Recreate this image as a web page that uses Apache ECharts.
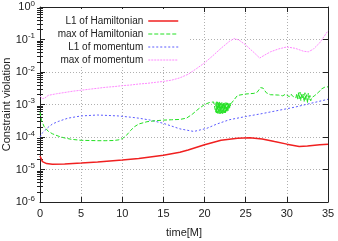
<!DOCTYPE html>
<html><head><meta charset="utf-8">
<script src="https://cdn.jsdelivr.net/npm/echarts@6/dist/echarts.min.js"></script>
<style>html,body{margin:0;padding:0;background:#fff}#c{width:338px;height:241px}</style>
</head><body><div id="c"></div>
<script>
const seriesNames = ['L1 of Hamiltonian','max of Hamiltonian','L1 of momentum','max of momentum'];
const xTicks = [0,5,10,15,20,25,30,35];
const yTicks = [1e-6,1e-5,1e-4,1e-3,1e-2,1e-1,1];

const l1HamT = [0,0.3,0.8,1.5,3,5,7,10,12,15,17,18,20,22,24,25.5,27,28.5,30,31.5,32.5,34,35];
const l1HamV = [2.6e-5,1.75e-5,1.52e-5,1.45e-5,1.48e-5,1.58e-5,1.70e-5,1.95e-5,2.19e-5,2.75e-5,3.39e-5,3.98e-5,5.75e-5,7.94e-5,9.12e-5,9.55e-5,8.71e-5,7.24e-5,6.03e-5,5.13e-5,5.25e-5,5.75e-5,6.03e-5];

const maxHamT = [0,0.2,0.5,1,1.5,2.2,3,3.8,5,6,7,8,9,9.6,10,10.5,11,11.5,12,13,14,15,16,17,17.8,18.5,19.2,20,20.6,21.1,
  21.30,21.35,21.40,21.45,21.50,21.55,21.60,21.65,21.70,21.75,21.80,21.85,21.90,21.95,22.00,22.05,22.10,22.15,22.20,22.25,
  22.30,22.35,22.40,22.45,22.50,22.55,22.60,22.65,22.70,22.75,22.80,22.85,22.90,22.95,23.00,23.05,23.10,23.15,23.20,
  23.4,24,25,26,26.4,26.8,27.1,27.5,28,29,29.5,29.8,30,30.3,30.5,30.7,30.9,
  31.1,31.2,31.3,31.4,31.5,31.6,31.7,31.8,31.9,32.0,32.1,32.2,32.3,32.4,32.5,32.6,32.7,32.8,32.9,33.0,33.4,33.8,34.2,34.6,35];
const maxHamV = [5.8e-4,3.16e-4,2.1e-4,1.5e-4,1.26e-4,1.07e-4,9.3e-5,8.5e-5,7.9e-5,7.8e-5,7.7e-5,7.7e-5,7.8e-5,8.2e-5,8.9e-5,1.12e-4,1.58e-4,2.09e-4,2.51e-4,2.95e-4,3.16e-4,3.31e-4,3.39e-4,3.47e-4,3.8e-4,5.0e-4,7.1e-4,1.0e-3,1.15e-3,1.2e-3,
  1.25e-3,5.8e-4,1.2e-3,5.5e-4,1.22e-3,5.4e-4,1.18e-3,5.3e-4,1.15e-3,5.4e-4,1.2e-3,5.2e-4,1.12e-3,5.3e-4,1.1e-3,5.5e-4,1.15e-3,5.2e-4,1.1e-3,5.4e-4,
  1.08e-3,5.3e-4,1.12e-3,5.5e-4,1.1e-3,5.6e-4,1.15e-3,5.8e-4,1.1e-3,6e-4,1.12e-3,6.5e-4,1.1e-3,7e-4,1.05e-3,8e-4,1.1e-3,9e-4,1.05e-3,
  1.1e-3,1.9e-3,2.1e-3,2.2e-3,2.4e-3,3.3e-3,3.2e-3,2.3e-3,2.0e-3,1.95e-3,1.85e-3,2.05e-3,1.9e-3,1.75e-3,2.1e-3,1.8e-3,2.0e-3,
  1.6e-3,2.2e-3,1.4e-3,2.3e-3,1.5e-3,2.4e-3,1.3e-3,2.2e-3,1.5e-3,2.1e-3,1.2e-3,2.3e-3,1.4e-3,2.0e-3,1.1e-3,2.2e-3,1.4e-3,1.9e-3,1.3e-3,1.6e-3,1.9e-3,2.3e-3,3.0e-3,3.4e-3,3.5e-3];

const l1MomT = [0,0.3,0.6,1,1.5,2.2,3.4,5,7,9.5,11,12,13.4,15,17,18.7,20.3,21.5,23,25,27,29,31,33,35];
const l1MomV = [1.0e-4,1.35e-4,1.6e-4,2.0e-4,2.5e-4,3.0e-4,3.8e-4,4.45e-4,4.75e-4,4.45e-4,4.07e-4,3.8e-4,3.31e-4,2.63e-4,1.78e-4,1.48e-4,1.86e-4,2.51e-4,3.39e-4,4.27e-4,5.25e-4,6.61e-4,8.32e-4,1.1e-3,1.45e-3];

const maxMomT = [0,0.3,0.6,1,2,3,4,5,6,7,8,9,10,11,12,13,14,15,16,17,18,19,20,21,22,23,23.6,24.2,25,26,26.7,27.3,28,29,30,31,32,32.6,33.2,34,35];
const maxMomV = [1.82e-3,1.51e-3,1.58e-3,1.91e-3,2.14e-3,2.34e-3,2.57e-3,2.75e-3,2.95e-3,3.16e-3,3.39e-3,3.55e-3,3.8e-3,3.98e-3,4.27e-3,4.47e-3,4.79e-3,5.13e-3,5.62e-3,6.61e-3,8.51e-3,1.26e-2,1.91e-2,3.16e-2,5.37e-2,8.71e-2,1.07e-1,9.55e-2,6.76e-2,3.98e-2,2.69e-2,3.31e-2,4.17e-2,5.13e-2,5.89e-2,5.37e-2,4.37e-2,4.17e-2,5.01e-2,7.94e-2,1.86e-1];

const minorVals = [];
yTicks.slice(0,-1).forEach(d => { for (let k = 2; k <= 9; k++) minorVals.push(+(d*k).toPrecision(3)); });

const pair = (t, v) => t.map((x, i) => [x, v[i]]);
const font = 'Liberation Sans, Arial, sans-serif';
const supLabel = v => { const e = Math.round(Math.log10(v)); return '{b|10}{s|' + e + '}'; };

const styles = [
  {color: '#f02020', width: 1.5, type: 'solid'},
  {color: '#22e022', width: 1, type: [4, 2]},
  {color: '#5a5aff', width: 1, type: [2, 2]},
  {color: '#ff88ff', width: 1, type: [2, 1]}
];

const chart = echarts.init(document.getElementById('c'), null, {renderer: 'canvas'});
const gridSplit = {show: true, lineStyle: {color: '#b0b0b0', type: [1, 2], width: 1}};
const baseY = {type: 'log', logBase: 10, min: 1e-6, max: 1, gridIndex: 0};
chart.setOption({
  animation: false,
  textStyle: {fontFamily: font},
  grid: {left: 40, right: 10, top: 7, bottom: 39, containLabel: false, outerBoundsMode: 'none'},
  xAxis: [
    {type: 'value', min: 0, max: 35, interval: 5, position: 'bottom',
     name: 'time[M]', nameLocation: 'middle', nameGap: 25, nameMoveOverlap: false,
     nameTextStyle: {fontSize: 11, color: '#222', fontFamily: font},
     axisLine: {show: true, onZero: false, lineStyle: {color: '#222', width: 1}},
     axisTick: {show: true, inside: true, length: 5, lineStyle: {color: '#222'}},
     axisLabel: {fontSize: 11, color: '#222', margin: 6, fontFamily: font},
     splitLine: gridSplit},
    {type: 'value', min: 0, max: 35, interval: 5, position: 'top',
     axisLine: {show: true, onZero: false, lineStyle: {color: '#222', width: 1}},
     axisTick: {show: true, inside: true, length: 5, lineStyle: {color: '#222'}},
     axisLabel: {show: false}, splitLine: {show: false}}
  ],
  yAxis: [
    Object.assign({}, baseY, {position: 'left',
     name: 'Constraint violation', nameLocation: 'middle', nameGap: 28, nameRotate: 90, nameMoveOverlap: false,
     nameTextStyle: {fontSize: 11, color: '#222', fontFamily: font},
     axisLine: {show: true, onZero: false, lineStyle: {color: '#222', width: 1}},
     axisTick: {show: true, inside: true, length: 5, lineStyle: {color: '#222'}},
     axisLabel: {formatter: supLabel, color: '#222', margin: 5,
       rich: {b: {fontSize: 11, fontFamily: font, color: '#222'}, s: {fontSize: 8, fontFamily: font, color: '#222', padding: [0,0,7,0]}}},
     splitLine: gridSplit}),
    Object.assign({}, baseY, {position: 'left',
     axisLine: {show: false}, axisLabel: {show: false}, splitLine: {show: false},
     axisTick: {show: true, inside: true, length: 3, customValues: minorVals, lineStyle: {color: '#222'}}}),
    Object.assign({}, baseY, {position: 'right',
     axisLine: {show: true, onZero: false, lineStyle: {color: '#222', width: 1}}, axisLabel: {show: false}, splitLine: {show: false},
     axisTick: {show: true, inside: true, length: 5, lineStyle: {color: '#222'}}}),
    Object.assign({}, baseY, {position: 'right',
     axisLine: {show: false}, axisLabel: {show: false}, splitLine: {show: false},
     axisTick: {show: true, inside: true, length: 3, customValues: minorVals, lineStyle: {color: '#222'}}})
  ],
  legend: {
    orient: 'vertical', top: 11, right: 154, align: 'right',
    itemWidth: 30, itemHeight: 10, itemGap: 3,
    itemStyle: {opacity: 0},
    textStyle: {fontSize: 10, color: '#222', fontFamily: font},
    data: seriesNames.map((n, i) => ({name: n, lineStyle: {width: styles[i].width, type: styles[i].type, color: styles[i].color}}))
  },
  graphic: [{type: 'rect', shape: {x: 45, y: 9, width: 145, height: 57}, style: {fill: '#fff'}, z: 1, silent: true}],
  series: [
    {name: seriesNames[0], type: 'line', symbol: 'none', data: pair(l1HamT, l1HamV), z: 5,
     lineStyle: styles[0], itemStyle: {color: styles[0].color}},
    {name: seriesNames[1], type: 'line', symbol: 'none', data: pair(maxHamT, maxHamV), z: 4,
     lineStyle: styles[1], itemStyle: {color: styles[1].color}},
    {name: seriesNames[2], type: 'line', symbol: 'none', data: pair(l1MomT, l1MomV), z: 3,
     lineStyle: styles[2], itemStyle: {color: styles[2].color}},
    {name: seriesNames[3], type: 'line', symbol: 'none', data: pair(maxMomT, maxMomV), z: 3,
     lineStyle: styles[3], itemStyle: {color: styles[3].color}}
  ]
});
</script></body></html>
